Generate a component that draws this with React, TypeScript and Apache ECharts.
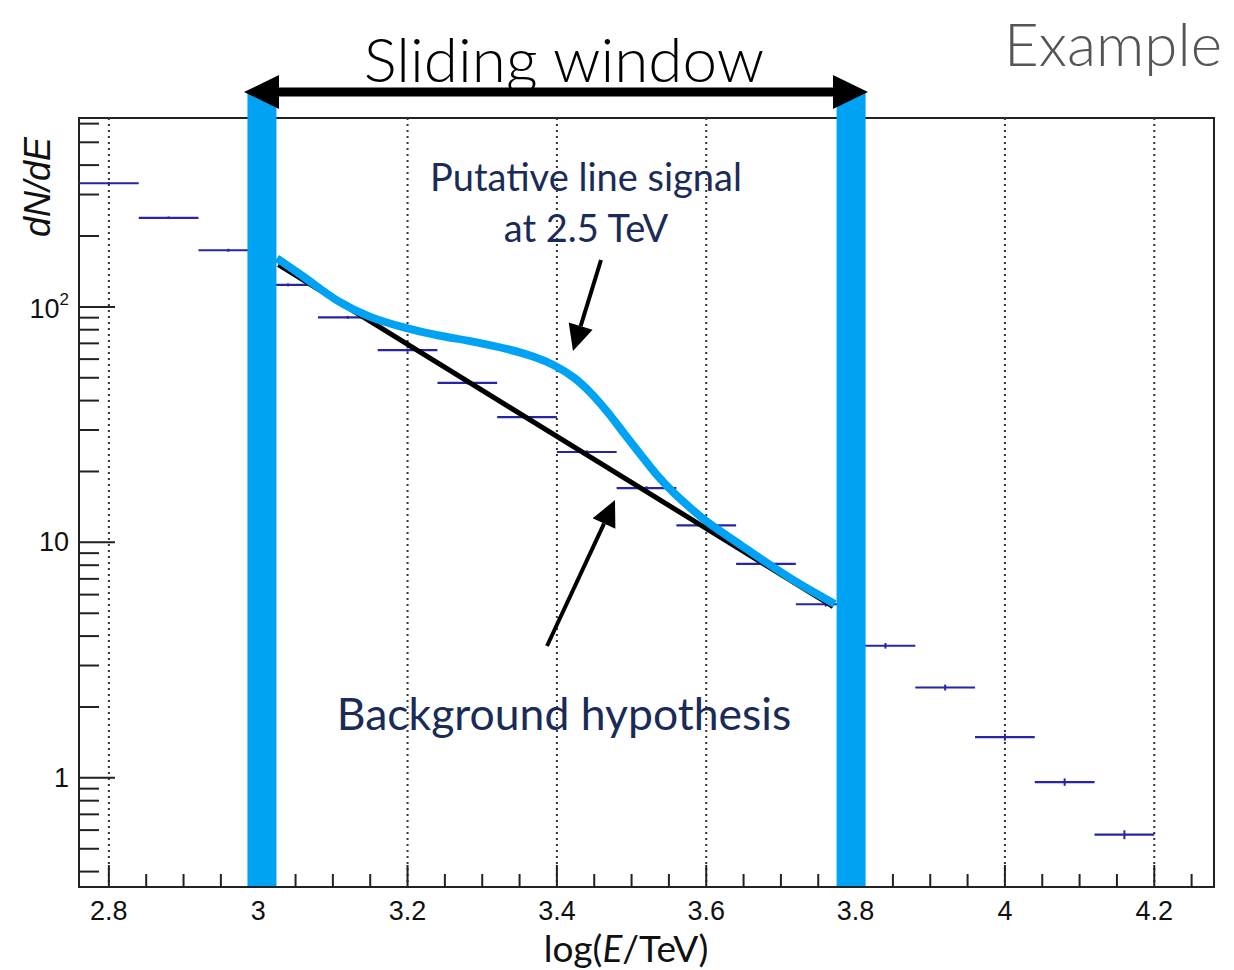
import React, { useEffect, useRef } from 'react';
import * as echarts from 'echarts';

// Axis ranges
const X_MIN = 2.76;
const X_MAX = 4.28;
const Y_MIN = 0.344;
const Y_MAX = 634;

// Histogram bins (log E/TeV centres) and dN/dE values
const binCenters = [2.80, 2.88, 2.96, 3.04, 3.12, 3.20, 3.28, 3.36, 3.44, 3.52, 3.60, 3.68, 3.76, 3.84, 3.92, 4.00, 4.08, 4.16];
const binCounts = [335, 239, 174, 124, 90.3, 65.5, 47.6, 34.0, 24.2, 17.0, 11.8, 8.11, 5.46, 3.64, 2.42, 1.49, 0.96, 0.574];
const binErrors = [4, 3, 2.5, 1.8, 1.3, 1.0, 0.7, 0.5, 0.4, 0.3, 0.22, 0.17, 0.12, 0.1, 0.07, 0.05, 0.035, 0.025];
const BIN_HALF_WIDTH = 0.04;

// Sliding window edges
const windowEdges = [3.005, 3.794];

// Background hypothesis (power law)
const bgX = [3.027, 3.770];
const bgY = [151.1, 5.33];

// Background + putative line signal
const sigX = [3.025, 3.061, 3.106, 3.150, 3.195, 3.240, 3.284, 3.334, 3.369, 3.396, 3.423, 3.446, 3.468, 3.490, 3.513, 3.535, 3.557, 3.580, 3.602, 3.647, 3.714, 3.772];
const sigY = [161.0, 134.1, 106.3, 90.7, 81.8, 75.8, 71.5, 66.1, 61.4, 56.5, 50.0, 42.9, 35.7, 29.0, 23.4, 19.15, 16.17, 13.89, 12.17, 9.7, 7.0, 5.48];

// Ticks
const xMajorTicks = [2.8, 3.0, 3.2, 3.4, 3.6, 3.8, 4.0, 4.2];
const xMinorTicks = [2.85, 2.9, 2.95, 3.05, 3.1, 3.15, 3.25, 3.3, 3.35, 3.45, 3.5, 3.55, 3.65, 3.7, 3.75, 3.85, 3.9, 3.95, 4.05, 4.1, 4.15, 4.25];
const yMajorTicks = [1, 10, 100];
const yMinorTicks = [0.4, 0.5, 0.6, 0.7, 0.8, 0.9, 2, 3, 4, 5, 6, 7, 8, 9, 20, 30, 40, 50, 60, 70, 80, 90, 200, 300, 400, 500, 600];

const NAVY = '#1b2b58';
const CYAN = '#00a3f4';
const ERR_BLUE = '#2525a5';
const AXIS_FONT = "'Liberation Sans', Arial, Helvetica, sans-serif";
const ANN_FONT = "Lato, 'Open Sans', sans-serif";

function arrowHead(tip: number[], from: number[], len: number, half: number) {
  const dx = tip[0] - from[0];
  const dy = tip[1] - from[1];
  const d = Math.sqrt(dx * dx + dy * dy);
  const ux = dx / d, uy = dy / d;
  const bx = tip[0] - ux * len, by = tip[1] - uy * len;
  const nx = -uy, ny = ux;
  return {
    points: [tip, [bx + nx * half, by + ny * half], [bx - nx * half, by - ny * half]],
    base: [bx, by],
  };
}

export default function App() {
  const ref = useRef<HTMLDivElement>(null);

  useEffect(() => {
    if (!ref.current) return;
    const chart = echarts.init(ref.current, null, { renderer: 'svg' });

    const tickData: number[][] = [];
    yMajorTicks.forEach((v) => tickData.push([X_MIN, v, 36, 0]));
    yMinorTicks.forEach((v) => tickData.push([X_MIN, v, 20, 0]));
    xMajorTicks.forEach((v) => tickData.push([v, Y_MIN, 22, 1]));
    xMinorTicks.forEach((v) => tickData.push([v, Y_MIN, 13, 1]));

    const a1 = arrowHead([573, 351], [601, 260], 26, 12.5);
    const a2 = arrowHead([615, 500], [547, 646], 26, 12.5);

    const option: any = {
      animation: false,
      backgroundColor: '#ffffff',
      grid: {
        left: 79,
        top: 118,
        width: 1135,
        height: 769,
        show: true,
        borderColor: '#222',
        borderWidth: 2,
        backgroundColor: 'transparent',
      },
      xAxis: {
        type: 'value',
        min: X_MIN,
        max: X_MAX,
        axisLine: { show: false },
        axisTick: { show: false },
        splitLine: { show: false },
        axisLabel: {
          customValues: xMajorTicks,
          formatter: (v: number) => String(Math.round(v * 10) / 10),
          fontSize: 27,
          fontFamily: AXIS_FONT,
          color: '#111',
          margin: 10,
          showMinLabel: true,
          showMaxLabel: true,
        },
      },
      yAxis: {
        type: 'log',
        logBase: 10,
        min: Y_MIN,
        max: Y_MAX,
        axisLine: { show: false },
        axisTick: { show: false },
        splitLine: { show: false },
        axisLabel: {
          margin: 10,
          formatter: (v: number) => {
            const l = Math.log10(v);
            const r = Math.round(l);
            if (Math.abs(l - r) > 1e-6) return '';
            if (r === 2) return '{b|10}{s|2}';
            if (r === 1) return '{n|10}';
            if (r === 0) return '{n|1}';
            return '';
          },
          rich: {
            n: { fontSize: 27, fontFamily: AXIS_FONT, color: '#111' },
            b: { fontSize: 27, fontFamily: AXIS_FONT, color: '#111', lineHeight: 32, verticalAlign: 'bottom' },
            s: { fontSize: 17, fontFamily: AXIS_FONT, color: '#111', lineHeight: 16, verticalAlign: 'top' },
          },
        },
      },
      series: [
        {
          name: 'grid',
          type: 'custom',
          z: 1,
          silent: true,
          data: xMajorTicks.map((v) => [v, Y_MAX]),
          renderItem: (_p: any, api: any) => {
            const x = api.value(0);
            const t = api.coord([x, Y_MAX]);
            const b = api.coord([x, Y_MIN]);
            return {
              type: 'line',
              shape: { x1: t[0], y1: t[1], x2: b[0], y2: b[1] },
              style: { stroke: '#333', lineWidth: 2, lineDash: [2, 4] },
            };
          },
        },
        {
          name: 'ticks',
          type: 'custom',
          z: 2,
          silent: true,
          data: tickData,
          renderItem: (_p: any, api: any) => {
            const p = api.coord([api.value(0), api.value(1)]);
            const len = api.value(2);
            const dir = api.value(3);
            const shape = dir === 0
              ? { x1: p[0], y1: p[1], x2: p[0] + len, y2: p[1] }
              : { x1: p[0], y1: p[1], x2: p[0], y2: p[1] - len };
            return { type: 'line', shape, style: { stroke: '#222', lineWidth: 2 } };
          },
        },
        {
          name: 'data',
          type: 'custom',
          z: 3,
          silent: true,
          data: binCenters.map((c, i) => [c, binCounts[i], binErrors[i]]),
          renderItem: (_p: any, api: any) => {
            const c = api.value(0);
            const v = api.value(1);
            const e = api.value(2);
            const l = api.coord([c - BIN_HALF_WIDTH, v]);
            const r = api.coord([c + BIN_HALF_WIDTH, v]);
            const lo = api.coord([c, v - e]);
            const hi = api.coord([c, v + e]);
            return {
              type: 'group',
              children: [
                { type: 'line', shape: { x1: l[0], y1: l[1], x2: r[0], y2: r[1] }, style: { stroke: ERR_BLUE, lineWidth: 2.2 } },
                { type: 'line', shape: { x1: lo[0], y1: lo[1], x2: hi[0], y2: hi[1] }, style: { stroke: ERR_BLUE, lineWidth: 2 } },
              ],
            };
          },
        },
        {
          name: 'window',
          type: 'custom',
          z: 4,
          silent: true,
          clip: false,
          data: windowEdges.map((v) => [v, Y_MAX]),
          renderItem: (_p: any, api: any) => {
            const x = api.value(0);
            const t = api.coord([x, Y_MAX]);
            const b = api.coord([x, Y_MIN]);
            return {
              type: 'rect',
              shape: { x: t[0] - 14.5, y: t[1] - 26, width: 29, height: b[1] - t[1] + 25 },
              style: { fill: CYAN },
            };
          },
        },
        {
          name: 'Background hypothesis',
          type: 'line',
          z: 5,
          silent: true,
          showSymbol: false,
          data: bgX.map((x, i) => [x, bgY[i]]),
          lineStyle: { color: '#000', width: 5 },
        },
        {
          name: 'Putative line signal',
          type: 'line',
          z: 6,
          silent: true,
          showSymbol: false,
          smooth: 0.3,
          data: sigX.map((x, i) => [x, sigY[i]]),
          lineStyle: { color: CYAN, width: 8 },
        },
      ],
      graphic: [
        // sliding window double arrow
        { type: 'line', z: 100, shape: { x1: 268, y1: 92, x2: 845, y2: 92 }, style: { stroke: '#000', lineWidth: 9 } },
        { type: 'polygon', z: 100, shape: { points: [[244, 92], [279, 75], [279, 109]] }, style: { fill: '#000' } },
        { type: 'polygon', z: 100, shape: { points: [[868, 92], [833, 75], [833, 109]] }, style: { fill: '#000' } },
        {
          type: 'text', z: 100, x: 564, y: 58,
          style: { text: 'Sliding window', fontSize: 62, fontFamily: ANN_FONT, fontWeight: 300, fill: '#000', align: 'center', verticalAlign: 'middle' },
        },
        {
          type: 'text', z: 100, x: 1113, y: 43,
          style: { text: 'Example', fontSize: 60, fontFamily: ANN_FONT, fontWeight: 300, fill: '#555', align: 'center', verticalAlign: 'middle' },
        },
        {
          type: 'text', z: 100, x: 586, y: 176,
          style: { text: 'Putative line signal', fontSize: 38, fontFamily: ANN_FONT, fill: NAVY, align: 'center', verticalAlign: 'middle' },
        },
        {
          type: 'text', z: 100, x: 586, y: 227,
          style: { text: 'at 2.5 TeV', fontSize: 38, fontFamily: ANN_FONT, fill: NAVY, align: 'center', verticalAlign: 'middle' },
        },
        {
          type: 'text', z: 100, x: 564, y: 712,
          style: { text: 'Background hypothesis', fontSize: 44.5, fontFamily: ANN_FONT, fill: NAVY, align: 'center', verticalAlign: 'middle' },
        },
        // arrow to signal
        { type: 'line', z: 100, shape: { x1: 601, y1: 260, x2: a1.base[0], y2: a1.base[1] }, style: { stroke: '#000', lineWidth: 4 } },
        { type: 'polygon', z: 100, shape: { points: a1.points }, style: { fill: '#000' } },
        // arrow to background
        { type: 'line', z: 100, shape: { x1: 547, y1: 646, x2: a2.base[0], y2: a2.base[1] }, style: { stroke: '#000', lineWidth: 4 } },
        { type: 'polygon', z: 100, shape: { points: a2.points }, style: { fill: '#000' } },
        // axis titles
        {
          type: 'text', z: 100, x: 626, y: 947,
          style: {
            text: '{n|log(}{i|E}{n|/TeV)}',
            align: 'center', verticalAlign: 'middle',
            rich: {
              n: { fontSize: 37, fontFamily: ANN_FONT, fill: '#111' },
              i: { fontSize: 37, fontFamily: ANN_FONT, fontStyle: 'italic', fill: '#111' },
            },
          },
        },
        {
          type: 'text', z: 100, x: 37, y: 187, rotation: Math.PI / 2,
          style: { text: 'dN/dE', fontSize: 36, fontFamily: AXIS_FONT, fontStyle: 'italic', fill: '#111', align: 'center', verticalAlign: 'middle' },
        },
      ],
    };

    chart.setOption(option);
    return () => chart.dispose();
  }, []);

  return <div ref={ref} style={{ position: 'absolute', left: 0, top: 0, width: 1234, height: 970 }} />;
}
